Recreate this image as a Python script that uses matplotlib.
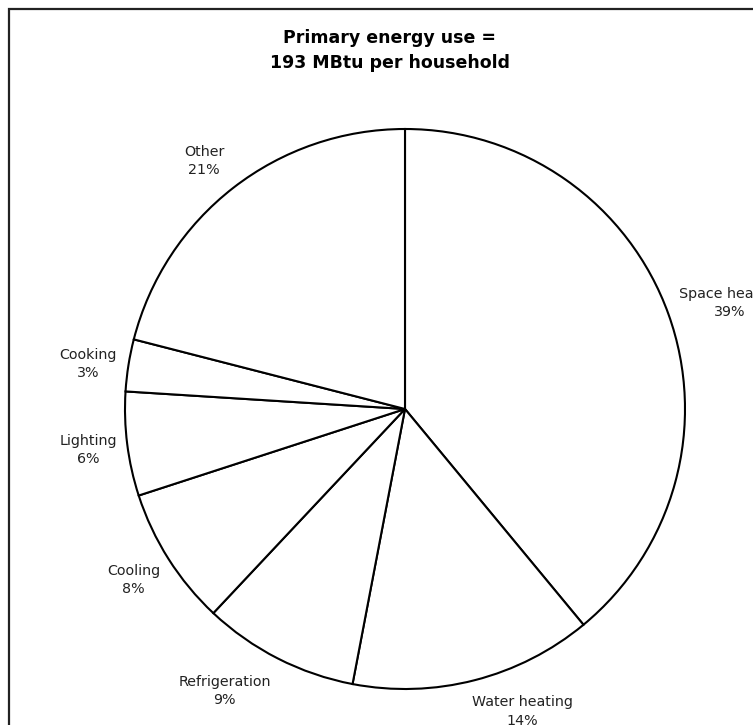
import numpy as np
import matplotlib
matplotlib.use("Agg")
import matplotlib.pyplot as plt

# End-use shares of household primary energy
categories = ["Space heating", "Water heating", "Refrigeration", "Cooling",
              "Lighting", "Cooking", "Other"]
shares = [39, 14, 9, 8, 6, 3, 21]
title = "Primary energy use =\n193 MBtu per household"

# Label layout: radial distance (in pie radii) and angular nudge (degrees)
label_dist = [1.22, 1.158, 1.196, 1.145, 1.141, 1.143, 1.14]
label_nudge = [-1.7, 6.75, -5.6, -0.2, 0.2, 0.9, 1.2]

W, H = 753, 725
fig = plt.figure(figsize=(W / 100, H / 100), dpi=100)
ax = fig.add_axes([0, 0, 1, 1])

cx, cy, R = 405, H - 409, 280
wedges, _ = ax.pie(shares, startangle=90, counterclock=False,
                   center=(cx, cy), radius=R, frame=True,
                   wedgeprops=dict(facecolor="white", edgecolor="black",
                                   linewidth=1.5))
ax.set_xlim(0, W)
ax.set_ylim(0, H)
ax.set_aspect("equal")
ax.axis("off")

label_font = dict(family="DejaVu Sans", size=10.3, color="#222222")
for w, name, val, d, nud in zip(wedges, categories, shares, label_dist, label_nudge):
    mid = np.deg2rad((w.theta1 + w.theta2) / 2 + nud)
    x = cx + d * R * np.cos(mid)
    y = cy + d * R * np.sin(mid)
    ax.text(x, y, f"{name}\n{val}%", ha="center", va="center",
            linespacing=1.4, clip_on=True, **label_font)

ax.text(390, H - 50, title, ha="center", va="center", fontsize=12.5,
        fontweight="semibold", family="DejaVu Sans", linespacing=1.5,
        color="black")

# Outer frame (extends past the right and bottom edges)
ax.plot([9, 9, W + 10], [-10, H - 9, H - 9], color="#222222", lw=1.6,
        solid_joinstyle="miter", clip_on=False)

fig.savefig("out.png", dpi=100)
